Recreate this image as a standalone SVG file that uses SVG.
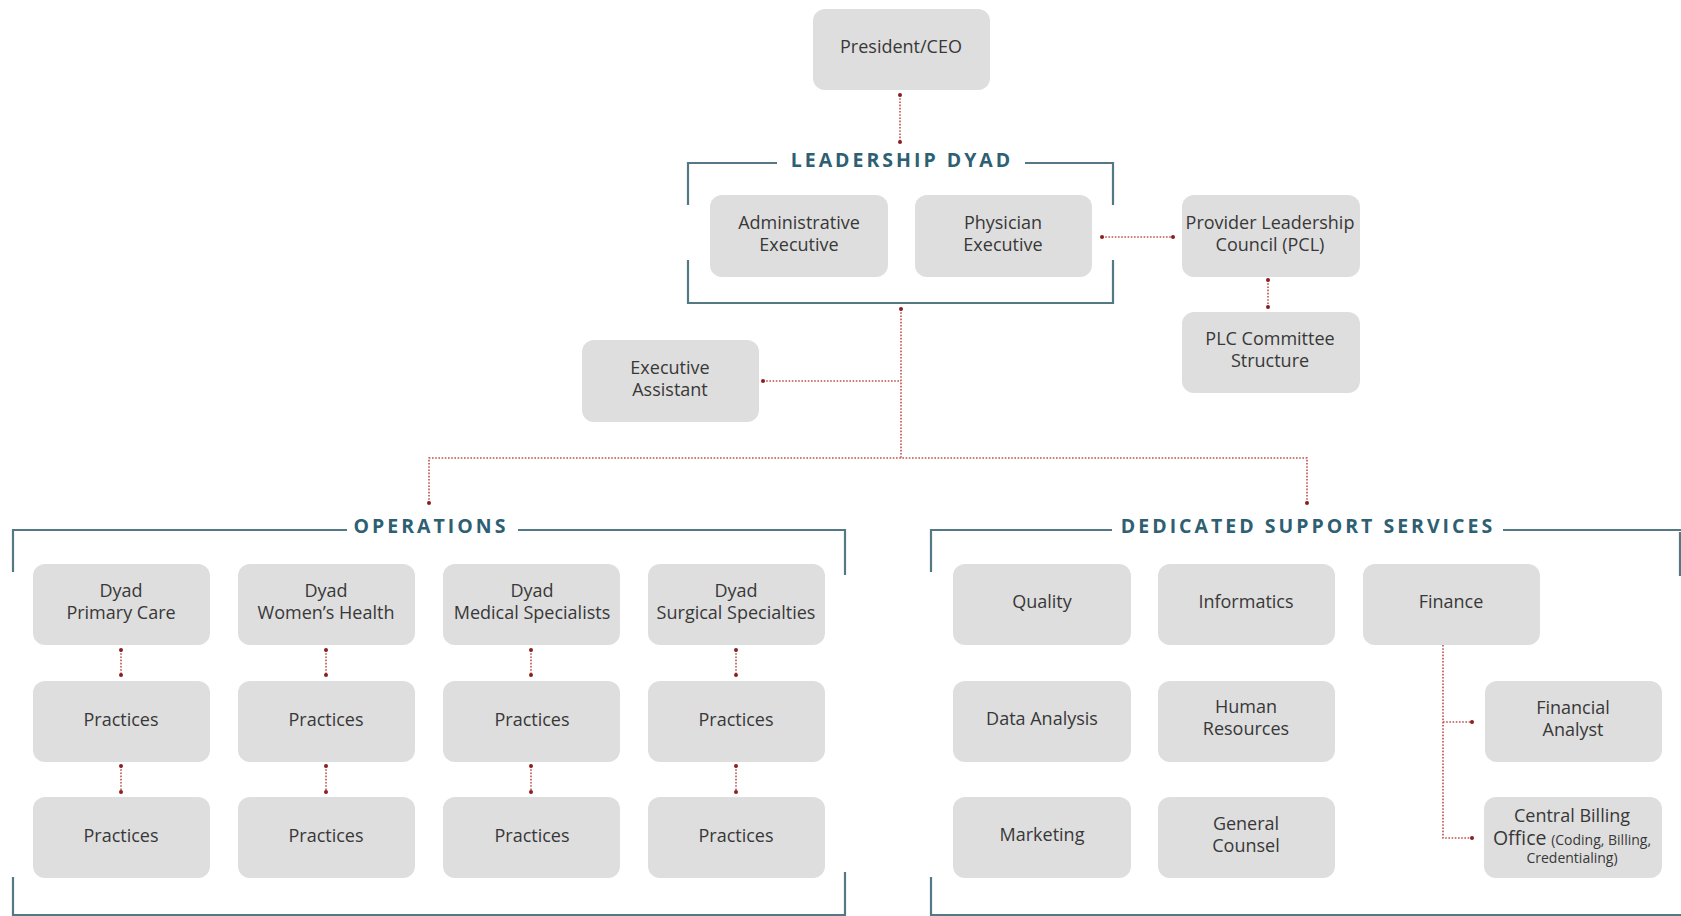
<svg xmlns="http://www.w3.org/2000/svg" width="1681" height="916" viewBox="0 0 1681 916">
  <style>
    .box { fill: #dedede; }
    .lbl { font-family: "Open Sans", "Noto Sans", "Liberation Sans", sans-serif; font-size: 18px; fill: #383838; text-anchor: middle; }
    .sm { font-size: 14px; }
    .big { font-size: 19.5px; }
    .title { font-family: "Open Sans", "Noto Sans", "Liberation Sans", sans-serif; font-size: 19.5px; font-weight: bold; fill: #2e5f73; letter-spacing: 3px; text-anchor: middle; }
    .bracket { fill: none; stroke: #557885; stroke-width: 2.2; }
    .link { fill: none; stroke: #c0504d; stroke-width: 1.6; stroke-dasharray: 1.6 1.6; }
    .dot { fill: #8a1f1f; }
  </style>

  <!-- group frames -->
  <g id="frames">
    <path class="bracket" d="M688 205 V163 H777 M1025 163 H1113 V205 M688 260 V303 H1113 V260"/>
    <text class="title" x="902" y="167">LEADERSHIP DYAD</text>
    <path class="bracket" d="M13 572 V530 H347 M518 530 H845 V575 M13 877 V916 M845 872 V916 M13 915 H845"/>
    <text class="title" x="431" y="533">OPERATIONS</text>
    <path class="bracket" d="M931 572 V530 H1112 M1503 530 H1681 M931 877 V916 M931 915 H1681 M1680 532 V576"/>
    <text class="title" x="1308" y="533">DEDICATED SUPPORT SERVICES</text>
  </g>

  <!-- connectors -->
  <g id="connectors">
    <path class="link" d="M900 95 V142"/>
    <path class="link" d="M1102 237 H1173"/>
    <path class="link" d="M1268 280 V307"/>
    <path class="link" d="M901 309 V458"/>
    <path class="link" d="M763 381 H901"/>
    <path class="link" d="M429 503 V458 H1307 V503"/>
    <path class="link" d="M121 650 V675 M326 650 V675 M531 650 V675 M736 650 V675"/>
    <path class="link" d="M121 766 V792 M326 766 V792 M531 766 V792 M736 766 V792"/>
    <path class="link" d="M1443 645 V838 H1472 M1443 722 H1472"/>
    <g class="dot">
      <circle cx="900" cy="95" r="2"/><circle cx="900" cy="142" r="2"/>
      <circle cx="1102" cy="237" r="2"/><circle cx="1173" cy="237" r="2"/>
      <circle cx="1268" cy="280" r="2"/><circle cx="1268" cy="307" r="2"/>
      <circle cx="901" cy="309" r="2"/><circle cx="763" cy="381" r="2"/>
      <circle cx="429" cy="503" r="2"/><circle cx="1307" cy="503" r="2"/>
      <circle cx="121" cy="650" r="2"/><circle cx="121" cy="675" r="2"/>
      <circle cx="326" cy="650" r="2"/><circle cx="326" cy="675" r="2"/>
      <circle cx="531" cy="650" r="2"/><circle cx="531" cy="675" r="2"/>
      <circle cx="736" cy="650" r="2"/><circle cx="736" cy="675" r="2"/>
      <circle cx="121" cy="766" r="2"/><circle cx="121" cy="792" r="2"/>
      <circle cx="326" cy="766" r="2"/><circle cx="326" cy="792" r="2"/>
      <circle cx="531" cy="766" r="2"/><circle cx="531" cy="792" r="2"/>
      <circle cx="736" cy="766" r="2"/><circle cx="736" cy="792" r="2"/>
      <circle cx="1472" cy="722" r="2"/><circle cx="1472" cy="838" r="2"/>
    </g>
  </g>

  <!-- nodes -->
  <g id="ceo"><rect class="box" x="813" y="9" width="177" height="81" rx="12"/><text class="lbl" x="901" y="53">President/CEO</text></g>
  <g id="admin-exec"><rect class="box" x="710" y="195" width="178" height="82" rx="12"/><text class="lbl" x="799" y="229">Administrative</text><text class="lbl" x="799" y="251">Executive</text></g>
  <g id="physician-exec"><rect class="box" x="915" y="195" width="177" height="82" rx="12"/><text class="lbl" x="1003" y="229">Physician</text><text class="lbl" x="1003" y="251">Executive</text></g>
  <g id="pcl"><rect class="box" x="1182" y="195" width="178" height="82" rx="12"/><text class="lbl" x="1270" y="229">Provider Leadership</text><text class="lbl" x="1270" y="251">Council (PCL)</text></g>
  <g id="plc-committee"><rect class="box" x="1182" y="312" width="178" height="81" rx="12"/><text class="lbl" x="1270" y="345">PLC Committee</text><text class="lbl" x="1270" y="367">Structure</text></g>
  <g id="exec-assistant"><rect class="box" x="582" y="340" width="177" height="82" rx="12"/><text class="lbl" x="670" y="374">Executive</text><text class="lbl" x="670" y="396">Assistant</text></g>

  <g id="dyad-primary"><rect class="box" x="33" y="564" width="177" height="81" rx="12"/><text class="lbl" x="121" y="597">Dyad</text><text class="lbl" x="121" y="619">Primary Care</text></g>
  <g id="dyad-women"><rect class="box" x="238" y="564" width="177" height="81" rx="12"/><text class="lbl" x="326" y="597">Dyad</text><text class="lbl" x="326" y="619">Women’s Health</text></g>
  <g id="dyad-medical"><rect class="box" x="443" y="564" width="177" height="81" rx="12"/><text class="lbl" x="532" y="597">Dyad</text><text class="lbl" x="532" y="619">Medical Specialists</text></g>
  <g id="dyad-surgical"><rect class="box" x="648" y="564" width="177" height="81" rx="12"/><text class="lbl" x="736" y="597">Dyad</text><text class="lbl" x="736" y="619">Surgical Specialties</text></g>

  <g id="practices-1a"><rect class="box" x="33" y="681" width="177" height="81" rx="12"/><text class="lbl" x="121" y="726">Practices</text></g>
  <g id="practices-2a"><rect class="box" x="238" y="681" width="177" height="81" rx="12"/><text class="lbl" x="326" y="726">Practices</text></g>
  <g id="practices-3a"><rect class="box" x="443" y="681" width="177" height="81" rx="12"/><text class="lbl" x="532" y="726">Practices</text></g>
  <g id="practices-4a"><rect class="box" x="648" y="681" width="177" height="81" rx="12"/><text class="lbl" x="736" y="726">Practices</text></g>
  <g id="practices-1b"><rect class="box" x="33" y="797" width="177" height="81" rx="12"/><text class="lbl" x="121" y="842">Practices</text></g>
  <g id="practices-2b"><rect class="box" x="238" y="797" width="177" height="81" rx="12"/><text class="lbl" x="326" y="842">Practices</text></g>
  <g id="practices-3b"><rect class="box" x="443" y="797" width="177" height="81" rx="12"/><text class="lbl" x="532" y="842">Practices</text></g>
  <g id="practices-4b"><rect class="box" x="648" y="797" width="177" height="81" rx="12"/><text class="lbl" x="736" y="842">Practices</text></g>

  <g id="quality"><rect class="box" x="953" y="564" width="178" height="81" rx="12"/><text class="lbl" x="1042" y="608">Quality</text></g>
  <g id="informatics"><rect class="box" x="1158" y="564" width="177" height="81" rx="12"/><text class="lbl" x="1246" y="608">Informatics</text></g>
  <g id="finance"><rect class="box" x="1363" y="564" width="177" height="81" rx="12"/><text class="lbl" x="1451" y="608">Finance</text></g>
  <g id="data-analysis"><rect class="box" x="953" y="681" width="178" height="81" rx="12"/><text class="lbl" x="1042" y="725">Data Analysis</text></g>
  <g id="human-resources"><rect class="box" x="1158" y="681" width="177" height="81" rx="12"/><text class="lbl" x="1246" y="713">Human</text><text class="lbl" x="1246" y="735">Resources</text></g>
  <g id="marketing"><rect class="box" x="953" y="797" width="178" height="81" rx="12"/><text class="lbl" x="1042" y="841">Marketing</text></g>
  <g id="general-counsel"><rect class="box" x="1158" y="797" width="177" height="81" rx="12"/><text class="lbl" x="1246" y="830">General</text><text class="lbl" x="1246" y="852">Counsel</text></g>
  <g id="financial-analyst"><rect class="box" x="1485" y="681" width="177" height="81" rx="12"/><text class="lbl" x="1573" y="714">Financial</text><text class="lbl" x="1573" y="736">Analyst</text></g>
  <g id="central-billing"><rect class="box" x="1484" y="797" width="178" height="81" rx="12"/><text class="lbl" x="1572" y="822">Central Billing</text><text class="lbl" x="1572" y="845"><tspan class="big">Office</tspan> <tspan class="sm">(Coding, Billing,</tspan></text><text class="lbl sm" x="1572" y="863">Credentialing)</text></g>
</svg>
